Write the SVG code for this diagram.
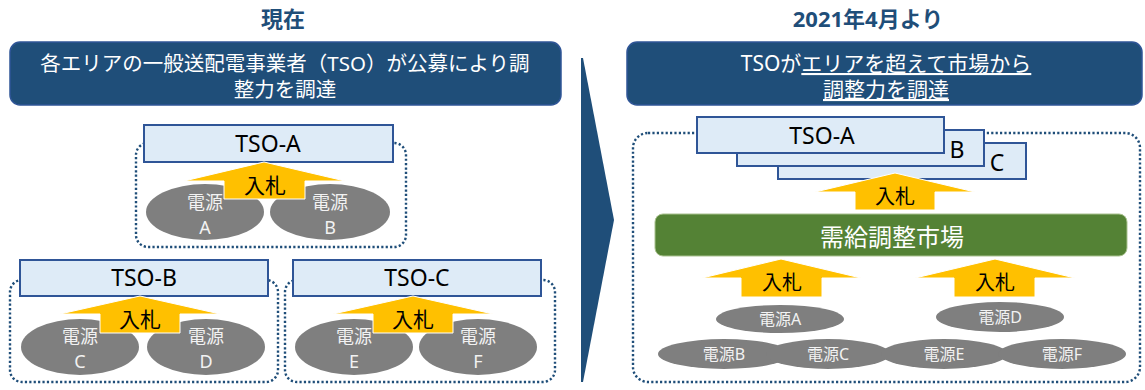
<svg xmlns="http://www.w3.org/2000/svg" width="1145" height="390" viewBox="0 0 1145 390">
<style>
text{font-family:"Noto Sans","Noto Sans CJK JP",sans-serif;text-anchor:middle}
.title{font-size:22px;font-weight:bold;fill:#1F4E79}
.hdr{fill:#1F4E79;stroke:#2F5597;stroke-width:1.5}
.hdrt{font-size:20.5px;fill:#FFFFFF}
.cont{fill:none;stroke:#1F4E79;stroke-width:2.4;stroke-dasharray:2.2 2.2}
.tso{fill:#DEEBF7;stroke:#2F5597;stroke-width:2}
.tsot{font-size:23px;fill:#000000}
.src{fill:#7F7F7F}
.srct{font-size:18px;fill:#F2F2F2}
.srcs{font-size:16px;fill:#F2F2F2}
.arr{fill:#FFC000;stroke:#FFFFFF;stroke-width:1}
.arrt{font-size:21px;fill:#000000}
.mkt{fill:#548235;stroke:#A9C18F;stroke-width:1}
</style>

<!-- Titles -->
<g id="title-now"><text class="title" x="283" y="27">現在</text></g>
<g id="title-2021"><text class="title" x="868" y="27">2021年4月より</text></g>

<!-- Headers -->
<g id="header-left">
<rect class="hdr" x="10" y="42" width="551" height="63" rx="10"/>
<text class="hdrt" x="285" y="71">各エリアの一般送配電事業者（TSO）が公募により調</text>
<text class="hdrt" x="285" y="97">整力を調達</text>
</g>
<g id="header-right">
<rect class="hdr" x="627" y="42" width="515" height="63" rx="10"/>
<text class="hdrt" x="886" y="71" style="font-size:21px">TSOが<tspan text-decoration="underline">エリアを超えて市場から</tspan></text>
<text class="hdrt" x="886" y="97" style="font-size:21px" text-decoration="underline">調整力を調達</text>
</g>

<!-- Transition arrow -->
<g id="transition-arrow">
<polygon points="581,58 583,58 614,220 583,382 581,382" fill="#1F4E79"/>
</g>

<!-- Left: area A -->
<g id="area-a">
<rect class="cont" x="136" y="143" width="270" height="104" rx="12"/>
<ellipse class="src" cx="205" cy="212" rx="59" ry="28"/>
<ellipse class="src" cx="330" cy="212" rx="60" ry="28"/>
<text class="srct" x="205" y="209">電源</text><text class="srct" x="205" y="234">A</text>
<text class="srct" x="330" y="209">電源</text><text class="srct" x="330" y="234">B</text>
<rect class="tso" x="144" y="125" width="249" height="37"/>
<text class="tsot" x="268" y="152">TSO-A</text>
</g>

<!-- Left: area B -->
<g id="area-b">
<rect class="cont" x="10" y="280" width="268" height="102" rx="12"/>
<ellipse class="src" cx="80" cy="347" rx="59" ry="28"/>
<ellipse class="src" cx="206" cy="347" rx="59" ry="28"/>
<text class="srct" x="80" y="343">電源</text><text class="srct" x="80" y="368">C</text>
<text class="srct" x="206" y="343">電源</text><text class="srct" x="206" y="368">D</text>
<rect class="tso" x="20" y="260" width="248" height="36"/>
<text class="tsot" x="144" y="286">TSO-B</text>
</g>

<!-- Left: area C -->
<g id="area-c">
<rect class="cont" x="285" y="280" width="270" height="102" rx="12"/>
<ellipse class="src" cx="354" cy="347" rx="59" ry="28"/>
<ellipse class="src" cx="478" cy="347" rx="59" ry="28"/>
<text class="srct" x="354" y="343">電源</text><text class="srct" x="354" y="368">E</text>
<text class="srct" x="478" y="343">電源</text><text class="srct" x="478" y="368">F</text>
<rect class="tso" x="293" y="260" width="248" height="36"/>
<text class="tsot" x="417" y="286">TSO-C</text>
</g>

<!-- Right: market -->
<g id="area-all">
<rect class="cont" x="633" y="133" width="507" height="249" rx="15"/>
</g>
<g id="tso-stack">
<rect class="tso" x="778" y="143" width="248" height="36"/>
<text class="tsot" x="997" y="171">C</text>
<rect class="tso" x="737" y="130" width="247" height="36"/>
<text class="tsot" x="957" y="158">B</text>
<rect class="tso" x="697" y="117" width="247" height="36"/>
<text class="tsot" x="822" y="144">TSO-A</text>
</g>
<g id="market">
<rect class="mkt" x="655" y="214" width="472" height="42" rx="8"/>
<text x="892" y="246" style="font-size:24px;fill:#FFFFFF">需給調整市場</text>
</g>
<g id="sources-right">
<ellipse class="src" cx="780" cy="319" rx="64" ry="14"/>
<text class="srcs" x="780" y="325">電源A</text>
<ellipse class="src" cx="1000" cy="317" rx="64" ry="15"/>
<text class="srcs" x="1000" y="323">電源D</text>
<ellipse class="src" cx="724" cy="354" rx="66" ry="15"/>
<ellipse class="src" cx="828" cy="354" rx="62" ry="15"/>
<ellipse class="src" cx="944" cy="354" rx="63" ry="15"/>
<ellipse class="src" cx="1062" cy="354" rx="64" ry="15"/>
<text class="srcs" x="724" y="360">電源B</text>
<text class="srcs" x="828" y="360">電源C</text>
<text class="srcs" x="944" y="360">電源E</text>
<text class="srcs" x="1062" y="360">電源F</text>
</g>

<!-- Connectors: bidding arrows -->
<g id="connectors">
<path class="arr" d="M264,162 L345,181 L305,181 L305,199 L224,199 L224,181 L184,181 Z"/>
<text class="arrt" x="265" y="193">入札</text>
<path class="arr" d="M140,296 L220,314 L180,314 L180,333 L100,333 L100,314 L60,314 Z"/>
<text class="arrt" x="140" y="327">入札</text>
<path class="arr" d="M413,296 L493,314 L453,314 L453,333 L373,333 L373,314 L333,314 Z"/>
<text class="arrt" x="413" y="327">入札</text>
<path class="arr" d="M895,173 L975,192 L935,192 L935,210 L855,210 L855,192 L815,192 Z"/>
<text class="arrt" x="895" y="204" style="font-size:20px">入札</text>
<path class="arr" d="M781,259 L861,278 L822,278 L822,297 L741,297 L741,278 L702,278 Z"/>
<text class="arrt" x="782" y="290" style="font-size:20px">入札</text>
<path class="arr" d="M995,259 L1075,278 L1035,278 L1035,297 L954,297 L954,278 L915,278 Z"/>
<text class="arrt" x="995" y="290" style="font-size:20px">入札</text>
</g>
</svg>
